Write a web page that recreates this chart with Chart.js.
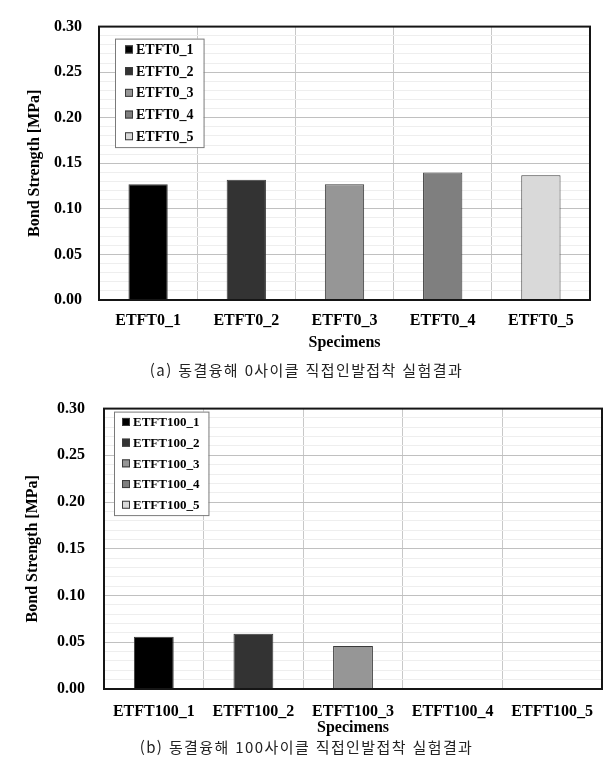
<!DOCTYPE html>
<html lang="ko">
<head>
<meta charset="utf-8">
<title>ETFT bond strength</title>
<script src="https://cdn.jsdelivr.net/npm/chart.js@4.4.1/dist/chart.umd.min.js"></script>
<style>
  html, body { margin: 0; padding: 0; background: #fff; }
  body { width: 613px; height: 766px; position: relative; overflow: hidden; }
  canvas { position: absolute; left: 0; }
  #chart-a { top: 0; }
  #chart-b { top: 380px; }
  .caption {
    position: absolute;
    left: 0;
    width: 613px;
    text-align: center;
    font-family: 'Noto Sans CJK KR', sans-serif;
    font-size: 15px;
    line-height: 20px;
    letter-spacing: 1.4px;
    color: #222;
  }
  #caption-a { top: 360px; }
  #caption-b { top: 737px; }
</style>
</head>
<body>
<canvas id="chart-a" width="613" height="360"></canvas>
<div class="caption" id="caption-a">(a) 동결융해 0사이클 직접인발접착 실험결과</div>
<canvas id="chart-b" width="613" height="360"></canvas>
<div class="caption" id="caption-b">(b) 동결융해 100사이클 직접인발접착 실험결과</div>

<script>
const SERIF = "'Liberation Serif', 'Times New Roman', serif";

// (a) 0 cycles
const specimensA = ['ETFT0_1', 'ETFT0_2', 'ETFT0_3', 'ETFT0_4', 'ETFT0_5'];
const strengthA = [0.127, 0.132, 0.127, 0.140, 0.137];

// (b) 100 cycles - specimens 4 and 5 have no bar
const specimensB = ['ETFT100_1', 'ETFT100_2', 'ETFT100_3', 'ETFT100_4', 'ETFT100_5'];
const strengthB = [0.056, 0.059, 0.046, null, null];

const barColors = ['#000000', '#333333', '#969696', '#7f7f7f', '#d9d9d9'];
const yTickLabels = [0, 0.05, 0.10, 0.15, 0.20, 0.25, 0.30];

function isLabelled(v) {
  return yTickLabels.some((t) => Math.abs(t - v) < 1e-6);
}

function buildDatasets(names, values) {
  return names.map((name, i) => ({
    label: name,
    data: names.map((_, j) => (j === i ? values[i] : null)),
    backgroundColor: barColors[i],
    borderColor: '#3a3a3a',
    borderWidth: 1,
  }));
}

// black frame round the plot area
const plotFrame = {
  id: 'plotFrame',
  afterDatasetsDraw(chart) {
    const { ctx, chartArea: a } = chart;
    ctx.save();
    ctx.strokeStyle = '#151515';
    ctx.lineWidth = 2;
    ctx.strokeRect(a.left, a.top, a.right - a.left, a.bottom - a.top);
    ctx.restore();
  },
};

// Excel-like boxed legend in the upper left corner of the plot
const boxLegend = {
  id: 'boxLegend',
  afterDraw(chart, args, opts) {
    const { ctx, chartArea } = chart;
    const sets = chart.data.datasets;
    ctx.save();
    ctx.font = `bold ${opts.fontSize}px ${SERIF}`;
    const textW = Math.max(...sets.map((d) => ctx.measureText(d.label).width));
    const x = chartArea.left + opts.left;
    const y = chartArea.top + opts.top;
    const w = opts.padLeft + opts.box + opts.gap + textW + opts.padRight;
    const h = opts.rowHeight * sets.length;

    ctx.fillStyle = '#fff';
    ctx.fillRect(x, y, w, h);
    ctx.strokeStyle = '#7a7a7a';
    ctx.lineWidth = 1;
    ctx.strokeRect(x + 0.5, y + 0.5, w, h);

    ctx.textBaseline = 'middle';
    sets.forEach((d, i) => {
      const cy = y + opts.rowHeight * (i + 0.5);
      const bx = x + opts.padLeft;
      ctx.fillStyle = d.backgroundColor;
      ctx.fillRect(bx, cy - opts.box / 2, opts.box, opts.box);
      ctx.strokeStyle = '#3a3a3a';
      ctx.strokeRect(bx + 0.5, cy - opts.box / 2 + 0.5, opts.box - 1, opts.box - 1);
      ctx.fillStyle = '#000';
      ctx.fillText(d.label, bx + opts.box + opts.gap, cy + 1);
    });
    ctx.restore();
  },
};

function chartOptions(cfg) {
  const font = { family: SERIF, size: 16, weight: 'bold' };
  return {
    responsive: false,
    animation: false,
    devicePixelRatio: 1,
    layout: { padding: { left: 0, top: cfg.top, right: cfg.right, bottom: 0 } },
    datasets: {
      bar: { grouped: false, barPercentage: 0.4, categoryPercentage: 1 },
    },
    plugins: {
      legend: { display: false },
      tooltip: { enabled: false },
      boxLegend: cfg.legend,
    },
    scales: {
      x: {
        afterFit: (s) => { s.height = cfg.xHeight; },
        grid: { color: '#c8c8c8', drawTicks: false, offset: true },
        border: { display: false },
        ticks: {
          color: '#000',
          font,
          padding: cfg.xTickPad,
          autoSkip: false,
          maxRotation: 0,
        },
        title: {
          display: true,
          text: 'Specimens',
          color: '#000',
          font,
          padding: { top: 0, bottom: cfg.xTitlePad },
        },
      },
      y: {
        min: 0,
        max: 0.3,
        afterFit: (s) => { s.width = cfg.yWidth; },
        grid: {
          drawTicks: false,
          color: (c) => (c.tick && isLabelled(c.tick.value) ? '#c0c0c0' : '#eeeeee'),
        },
        border: { display: false },
        ticks: {
          stepSize: 0.01,
          maxTicksLimit: 40,
          autoSkip: false,
          color: '#000',
          font,
          padding: cfg.yTickPad,
          callback: (v) => (isLabelled(v) ? v.toFixed(2) : ''),
        },
        title: {
          display: true,
          text: 'Bond Strength [MPa]',
          color: '#000',
          font,
          padding: { top: cfg.yTitlePad, bottom: 0 },
        },
      },
    },
  };
}

new Chart(document.getElementById('chart-a'), {
  type: 'bar',
  data: { labels: specimensA, datasets: buildDatasets(specimensA, strengthA) },
  options: chartOptions({
    top: 21, right: 23, yWidth: 99, xHeight: 60,
    yTickPad: 17, yTitlePad: 25, xTickPad: 11, xTitlePad: 8,
    legend: { left: 16, top: 12, rowHeight: 21.7, fontSize: 14, padLeft: 10, box: 8, gap: 3, padRight: 10 },
  }),
  plugins: [plotFrame, boxLegend],
});

new Chart(document.getElementById('chart-b'), {
  type: 'bar',
  data: { labels: specimensB, datasets: buildDatasets(specimensB, strengthB) },
  options: chartOptions({
    top: 25, right: 11, yWidth: 104, xHeight: 51,
    yTickPad: 19, yTitlePad: 23, xTickPad: 13, xTitlePad: 3,
    legend: { left: 10, top: 3, rowHeight: 20.7, fontSize: 13, padLeft: 8, box: 8, gap: 3, padRight: 9 },
  }),
  plugins: [plotFrame, boxLegend],
});
</script>
</body>
</html>
